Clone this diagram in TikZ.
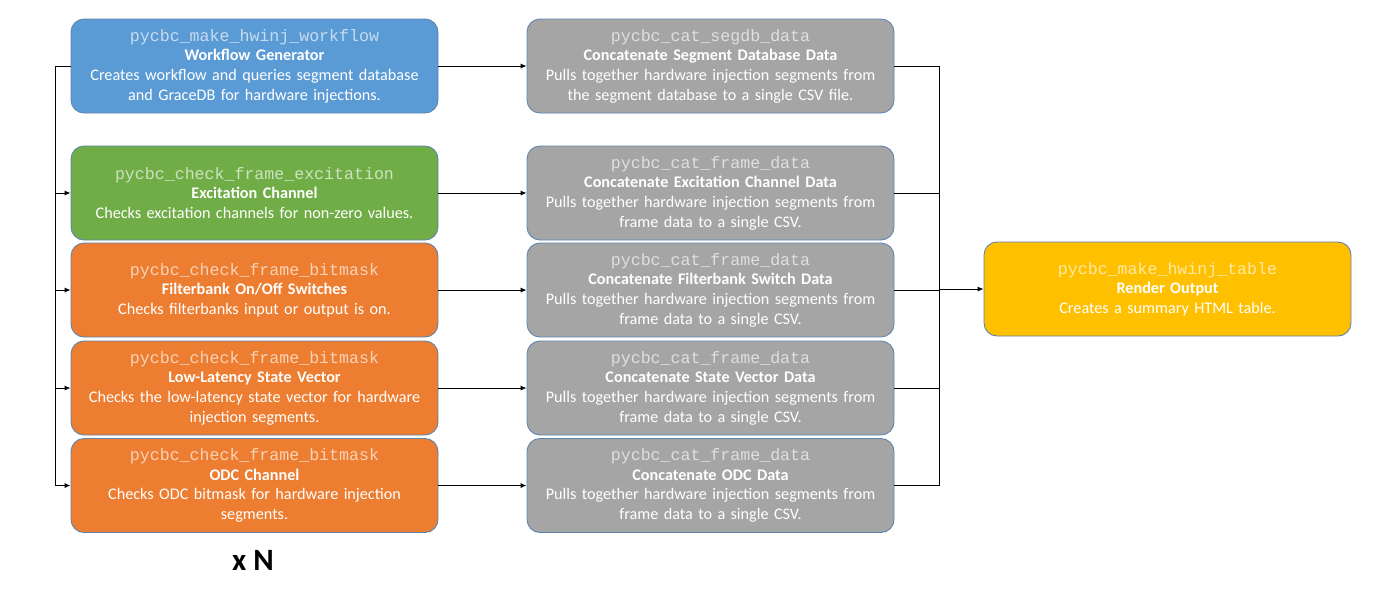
\documentclass[tikz,border=0pt]{standalone}
\usepackage{fontspec}
\setmainfont{Carlito}
\setmonofont{Liberation Mono}
\usetikzlibrary{arrows.meta,calc}
\definecolor{cblue}{HTML}{5B9BD5}
\definecolor{cgreen}{HTML}{70AD47}
\definecolor{corange}{HTML}{ED7D31}
\definecolor{cgray}{HTML}{A5A5A5}
\definecolor{cyellow}{HTML}{FFC000}
\definecolor{cborder}{HTML}{5E84AE}
\newcommand{\monoline}[2]{{\fontsize{8.3pt}{9.8pt}\selectfont\ttfamily\textcolor{white!65!#1}{#2}}}
\tikzset{
  box/.style={draw=cborder, line width=0.45pt, rounded corners=6.5pt,
    minimum width=183.5pt, minimum height=47pt, text width=180pt,
    align=center, inner sep=0pt, text=white,
    font=\fontsize{8.1pt}{9.8pt}\selectfont},
  conn/.style={line width=0.5pt, draw=black},
  arr/.style={conn, -{Latex[length=3pt,width=2.6pt]}}
}
\begin{document}
\begin{tikzpicture}[x=0.5pt,y=-0.5pt]
\useasboundingbox (0,0) rectangle (1400,600);
% left column
\node[box, fill=cblue] (w1) at (254.5,66) {\monoline{cblue}{pycbc\_make\_hwinj\_workflow}\\\textbf{Workflow Generator}\\Creates workflow and queries segment database\\and GraceDB for hardware injections.};
\node[box, fill=cgreen] (w2) at (254.5,193) {\monoline{cgreen}{pycbc\_check\_frame\_excitation}\\\textbf{Excitation Channel}\\Checks excitation channels for non-zero values.};
\node[box, fill=corange] (w3) at (254.5,290) {\monoline{corange}{pycbc\_check\_frame\_bitmask}\\\textbf{Filterbank On/Off Switches}\\Checks filterbanks input or output is on.};
\node[box, fill=corange] (w4) at (254.5,388) {\monoline{corange}{pycbc\_check\_frame\_bitmask}\\\textbf{Low-Latency State Vector}\\Checks the low-latency state vector for hardware\\injection segments.};
\node[box, fill=corange] (w5) at (254.5,485.5) {\monoline{corange}{pycbc\_check\_frame\_bitmask}\\\textbf{ODC Channel}\\Checks ODC bitmask for hardware injection\\segments.};
% middle column
\node[box, fill=cgray] (c1) at (710.5,66) {\monoline{cgray}{pycbc\_cat\_segdb\_data}\\\textbf{Concatenate Segment Database Data}\\Pulls together hardware injection segments from\\the segment database to a single CSV file.};
\node[box, fill=cgray] (c2) at (710.5,193) {\monoline{cgray}{pycbc\_cat\_frame\_data}\\\textbf{Concatenate Excitation Channel Data}\\Pulls together hardware injection segments from\\frame data to a single CSV.};
\node[box, fill=cgray] (c3) at (710.5,290) {\monoline{cgray}{pycbc\_cat\_frame\_data}\\\textbf{Concatenate Filterbank Switch Data}\\Pulls together hardware injection segments from\\frame data to a single CSV.};
\node[box, fill=cgray] (c4) at (710.5,388) {\monoline{cgray}{pycbc\_cat\_frame\_data}\\\textbf{Concatenate State Vector Data}\\Pulls together hardware injection segments from\\frame data to a single CSV.};
\node[box, fill=cgray] (c5) at (710.5,485.5) {\monoline{cgray}{pycbc\_cat\_frame\_data}\\\textbf{Concatenate ODC Data}\\Pulls together hardware injection segments from\\frame data to a single CSV.};
% right
\node[box, fill=cyellow] (r) at (1167.5,289) {\monoline{cyellow}{pycbc\_make\_hwinj\_table}\\\textbf{Render Output}\\Creates a summary HTML table.};
% x N
\node[font=\fontsize{15.5pt}{18pt}\selectfont\bfseries, inner sep=0pt] (xn) at (253,560) {x N};
% left bus
\coordinate (lbtop) at (55,66);
\coordinate (lbbot) at (55,485.5);
\draw[conn] (w1.west) -- (lbtop) -- (lbbot);
\foreach \n in {w2,w3,w4,w5}{\draw[arr] (\n.west -| lbtop) -- (\n.west);}
% left to middle
\foreach \i in {1,...,5}{\draw[arr] (w\i.east) -- (c\i.west);}
% right bus
\coordinate (rbtop) at (939,66);
\coordinate (rbbot) at (939,485.5);
\draw[conn] (rbtop) -- (rbbot);
\foreach \i in {1,...,5}{\draw[conn] (c\i.east) -- (c\i.east -| rbtop);}
\draw[arr] (r.west -| rbtop) -- (r.west);
\end{tikzpicture}
\end{document}
